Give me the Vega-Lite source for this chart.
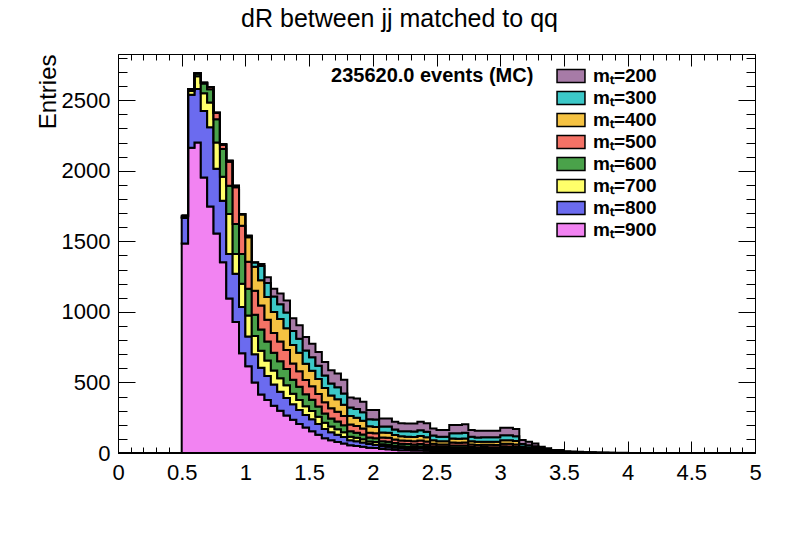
{
  "$schema": "https://vega.github.io/schema/vega-lite/v6.json",
  "width": 637,
  "height": 399,
  "autosize": {"type": "none"},
  "padding": {"left": 118, "top": 54, "right": 33, "bottom": 81},
  "background": "white",
  "config": {
    "font": "Liberation Sans",
    "view": {"stroke": "black", "strokeWidth": 1}
  },
  "title": {
    "text": "dR between jj matched to qq",
    "font": "Liberation Sans",
    "fontSize": 25,
    "fontWeight": "normal",
    "color": "black",
    "anchor": "middle",
    "frame": "group",
    "dx": -37,
    "baseline": "alphabetic",
    "offset": 2
  },
  "datasets": {
    "hists": [
      {"d": 0.50, "m900": 1484, "m800": 181, "m700": 10, "m600": 7, "m500": 0, "m400": 0, "m300": 0, "m200": 0},
      {"d": 0.55, "m900": 2163, "m800": 377, "m700": 25, "m600": 10, "m500": 3, "m400": 0, "m300": 0, "m200": 0},
      {"d": 0.60, "m900": 2200, "m800": 380, "m700": 91, "m600": 19, "m500": 2, "m400": 0, "m300": 0, "m200": 0},
      {"d": 0.65, "m900": 1953, "m800": 471, "m700": 125, "m600": 70, "m500": 5, "m400": 0, "m300": 0, "m200": 0},
      {"d": 0.70, "m900": 1748, "m800": 560, "m700": 177, "m600": 94, "m500": 15, "m400": 0, "m300": 0, "m200": 0},
      {"d": 0.75, "m900": 1555, "m800": 460, "m700": 185, "m600": 166, "m500": 46, "m400": 0, "m300": 0, "m200": 0},
      {"d": 0.80, "m900": 1352, "m800": 436, "m700": 170, "m600": 196, "m500": 30, "m400": 5, "m300": 0, "m200": 0},
      {"d": 0.85, "m900": 1095, "m800": 316, "m700": 283, "m600": 200, "m500": 170, "m400": 7, "m300": 0, "m200": 0},
      {"d": 0.90, "m900": 928, "m800": 342, "m700": 141, "m600": 212, "m500": 260, "m400": 11, "m300": 0, "m200": 0},
      {"d": 0.95, "m900": 707, "m800": 327, "m700": 165, "m600": 212, "m500": 200, "m400": 80, "m300": 3, "m200": 0},
      {"d": 1.00, "m900": 615, "m800": 210, "m700": 150, "m600": 190, "m500": 190, "m400": 175, "m300": 8, "m200": 3},
      {"d": 1.05, "m900": 500, "m800": 200, "m700": 130, "m600": 150, "m500": 170, "m400": 170, "m300": 30, "m200": 2},
      {"d": 1.10, "m900": 415, "m800": 190, "m700": 120, "m600": 150, "m500": 170, "m400": 180, "m300": 100, "m200": 15},
      {"d": 1.15, "m900": 375, "m800": 170, "m700": 110, "m600": 135, "m500": 155, "m400": 160, "m300": 100, "m200": 41},
      {"d": 1.20, "m900": 335, "m800": 150, "m700": 100, "m600": 125, "m500": 140, "m400": 150, "m300": 110, "m200": 54},
      {"d": 1.25, "m900": 300, "m800": 135, "m700": 95, "m600": 120, "m500": 140, "m400": 160, "m300": 105, "m200": 75},
      {"d": 1.30, "m900": 265, "m800": 125, "m700": 90, "m600": 115, "m500": 135, "m400": 155, "m300": 110, "m200": 85},
      {"d": 1.35, "m900": 235, "m800": 110, "m700": 75, "m600": 100, "m500": 115, "m400": 130, "m300": 100, "m200": 90},
      {"d": 1.40, "m900": 205, "m800": 100, "m700": 70, "m600": 95, "m500": 110, "m400": 130, "m300": 100, "m200": 95},
      {"d": 1.45, "m900": 180, "m800": 90, "m700": 62, "m600": 85, "m500": 100, "m400": 115, "m300": 95, "m200": 95},
      {"d": 1.50, "m900": 155, "m800": 85, "m700": 58, "m600": 80, "m500": 95, "m400": 110, "m300": 95, "m200": 97},
      {"d": 1.55, "m900": 130, "m800": 75, "m700": 52, "m600": 72, "m500": 90, "m400": 105, "m300": 95, "m200": 97},
      {"d": 1.60, "m900": 105, "m800": 65, "m700": 45, "m600": 65, "m500": 80, "m400": 100, "m300": 90, "m200": 95},
      {"d": 1.65, "m900": 90, "m800": 57, "m700": 40, "m600": 58, "m500": 72, "m400": 90, "m300": 85, "m200": 95},
      {"d": 1.70, "m900": 78, "m800": 52, "m700": 38, "m600": 55, "m500": 70, "m400": 88, "m300": 85, "m200": 97},
      {"d": 1.75, "m900": 68, "m800": 45, "m700": 34, "m600": 50, "m500": 65, "m400": 80, "m300": 80, "m200": 98},
      {"d": 1.80, "m900": 55, "m800": 35, "m700": 26, "m600": 38, "m500": 48, "m400": 60, "m300": 60, "m200": 72},
      {"d": 1.85, "m900": 50, "m800": 33, "m700": 25, "m600": 36, "m500": 47, "m400": 58, "m300": 62, "m200": 75},
      {"d": 1.90, "m900": 45, "m800": 30, "m700": 23, "m600": 33, "m500": 43, "m400": 55, "m300": 60, "m200": 74},
      {"d": 1.95, "m900": 38, "m800": 25, "m700": 19, "m600": 27, "m500": 35, "m400": 45, "m300": 50, "m200": 65},
      {"d": 2.00, "m900": 35, "m800": 24, "m700": 19, "m600": 27, "m500": 35, "m400": 45, "m300": 52, "m200": 67},
      {"d": 2.05, "m900": 28, "m800": 19, "m700": 15, "m600": 21, "m500": 27, "m400": 35, "m300": 42, "m200": 58},
      {"d": 2.10, "m900": 26, "m800": 18, "m700": 15, "m600": 21, "m500": 28, "m400": 36, "m300": 43, "m200": 58},
      {"d": 2.15, "m900": 23, "m800": 16, "m700": 13, "m600": 19, "m500": 25, "m400": 32, "m300": 38, "m200": 55},
      {"d": 2.20, "m900": 20, "m800": 15, "m700": 12, "m600": 18, "m500": 23, "m400": 30, "m300": 37, "m200": 55},
      {"d": 2.25, "m900": 19, "m800": 14, "m700": 12, "m600": 18, "m500": 23, "m400": 30, "m300": 38, "m200": 55},
      {"d": 2.30, "m900": 18, "m800": 14, "m700": 12, "m600": 17, "m500": 22, "m400": 30, "m300": 40, "m200": 56},
      {"d": 2.35, "m900": 18, "m800": 15, "m700": 13, "m600": 18, "m500": 24, "m400": 32, "m300": 42, "m200": 59},
      {"d": 2.40, "m900": 16, "m800": 14, "m700": 12, "m600": 17, "m500": 22, "m400": 30, "m300": 40, "m200": 59},
      {"d": 2.45, "m900": 13, "m800": 11, "m700": 10, "m600": 14, "m500": 18, "m400": 25, "m300": 33, "m200": 50},
      {"d": 2.50, "m900": 12, "m800": 10, "m700": 9, "m600": 13, "m500": 17, "m400": 23, "m300": 31, "m200": 48},
      {"d": 2.55, "m900": 12, "m800": 10, "m700": 9, "m600": 13, "m500": 17, "m400": 23, "m300": 32, "m200": 47},
      {"d": 2.60, "m900": 14, "m800": 12, "m700": 11, "m600": 16, "m500": 21, "m400": 28, "m300": 38, "m200": 58},
      {"d": 2.65, "m900": 14, "m800": 12, "m700": 11, "m600": 16, "m500": 20, "m400": 28, "m300": 39, "m200": 58},
      {"d": 2.70, "m900": 14, "m800": 12, "m700": 11, "m600": 16, "m500": 21, "m400": 29, "m300": 40, "m200": 60},
      {"d": 2.75, "m900": 11, "m800": 10, "m700": 9, "m600": 13, "m500": 17, "m400": 23, "m300": 32, "m200": 48},
      {"d": 2.80, "m900": 11, "m800": 9, "m700": 9, "m600": 12, "m500": 16, "m400": 22, "m300": 31, "m200": 48},
      {"d": 2.85, "m900": 11, "m800": 10, "m700": 9, "m600": 12, "m500": 16, "m400": 22, "m300": 31, "m200": 47},
      {"d": 2.90, "m900": 10, "m800": 9, "m700": 9, "m600": 13, "m500": 17, "m400": 22, "m300": 31, "m200": 47},
      {"d": 2.95, "m900": 10, "m800": 10, "m700": 8, "m600": 12, "m500": 17, "m400": 23, "m300": 31, "m200": 47},
      {"d": 3.00, "m900": 12, "m800": 11, "m700": 10, "m600": 14, "m500": 19, "m400": 25, "m300": 35, "m200": 53},
      {"d": 3.05, "m900": 11, "m800": 11, "m700": 10, "m600": 14, "m500": 19, "m400": 26, "m300": 35, "m200": 53},
      {"d": 3.10, "m900": 11, "m800": 10, "m700": 9, "m600": 13, "m500": 18, "m400": 24, "m300": 34, "m200": 51},
      {"d": 3.15, "m900": 6, "m800": 5, "m700": 5, "m600": 7, "m500": 10, "m400": 13, "m300": 18, "m200": 28},
      {"d": 3.20, "m900": 5, "m800": 5, "m700": 4, "m600": 6, "m500": 8, "m400": 11, "m300": 16, "m200": 25},
      {"d": 3.25, "m900": 4, "m800": 4, "m700": 4, "m600": 5, "m500": 7, "m400": 10, "m300": 13, "m200": 21},
      {"d": 3.30, "m900": 3, "m800": 3, "m700": 2, "m600": 3, "m500": 5, "m400": 6, "m300": 9, "m200": 14},
      {"d": 3.35, "m900": 2, "m800": 2, "m700": 2, "m600": 3, "m500": 3, "m400": 5, "m300": 6, "m200": 10},
      {"d": 3.40, "m900": 1, "m800": 1, "m700": 1, "m600": 2, "m500": 2, "m400": 3, "m300": 4, "m200": 7},
      {"d": 3.45, "m900": 1, "m800": 1, "m700": 2, "m600": 2, "m500": 2, "m400": 3, "m300": 4, "m200": 6},
      {"d": 3.50, "m900": 1, "m800": 1, "m700": 1, "m600": 1, "m500": 1, "m400": 2, "m300": 2, "m200": 3},
      {"d": 3.55, "m900": 0, "m800": 1, "m700": 1, "m600": 1, "m500": 1, "m400": 1, "m300": 2, "m200": 3},
      {"d": 3.60, "m900": 0, "m800": 0, "m700": 1, "m600": 1, "m500": 1, "m400": 1, "m300": 2, "m200": 2},
      {"d": 3.65, "m900": 0, "m800": 0, "m700": 0, "m600": 1, "m500": 1, "m400": 1, "m300": 1, "m200": 2},
      {"d": 3.70, "m900": 0, "m800": 0, "m700": 0, "m600": 0, "m500": 1, "m400": 1, "m300": 1, "m200": 2},
      {"d": 3.75, "m900": 0, "m800": 0, "m700": 0, "m600": 0, "m500": 0, "m400": 1, "m300": 1, "m200": 2},
      {"d": 3.80, "m900": 0, "m800": 0, "m700": 0, "m600": 0, "m500": 0, "m400": 0, "m300": 1, "m200": 2},
      {"d": 3.85, "m900": 0, "m800": 0, "m700": 0, "m600": 0, "m500": 0, "m400": 0, "m300": 1, "m200": 1},
      {"d": 3.90, "m900": 0, "m800": 0, "m700": 0, "m600": 0, "m500": 0, "m400": 0, "m300": 0, "m200": 2},
      {"d": 3.95, "m900": 0, "m800": 0, "m700": 0, "m600": 0, "m500": 0, "m400": 0, "m300": 0, "m200": 1},
      {"d": 4.00, "m900": 0, "m800": 0, "m700": 0, "m600": 0, "m500": 0, "m400": 0, "m300": 0, "m200": 0}
    ]
  },
  "layer": [
    {
      "data": {"name": "hists"},
      "transform": [
        {"fold": ["m900", "m800", "m700", "m600", "m500", "m400", "m300", "m200"], "as": ["s", "n"]}
      ],
      "mark": {"type": "area", "interpolate": "step-after", "stroke": "black", "strokeWidth": 2, "fillOpacity": 1},
      "encoding": {
        "x": {
          "field": "d", "type": "quantitative",
          "scale": {"domain": [0, 5], "nice": false},
          "axis": {
            "orient": "bottom", "values": [0, 0.5, 1, 1.5, 2, 2.5, 3, 3.5, 4, 4.5, 5],
            "format": "~g", "ticks": false, "domain": false, "grid": false,
            "labelFont": "Liberation Sans", "labelFontSize": 22, "labelColor": "black",
            "labelPadding": 9, "labelFlush": false, "labelOverlap": false, "title": null
          }
        },
        "y": {
          "field": "n", "type": "quantitative", "stack": "zero",
          "scale": {"domain": [0, 2828], "nice": false},
          "axis": {
            "orient": "left", "values": [0, 500, 1000, 1500, 2000, 2500], "format": "d",
            "ticks": false, "domain": false, "grid": false,
            "labelFont": "Liberation Sans", "labelFontSize": 22, "labelColor": "black",
            "labelPadding": 8, "labelFlush": false, "labelOverlap": false,
            "title": "Entries", "titleFont": "Liberation Sans", "titleFontSize": 24,
            "titleFontWeight": "normal", "titleColor": "black", "titleAngle": -90,
            "titleAlign": "right", "titleBaseline": "middle", "titleX": -70, "titleY": 0
          }
        },
        "color": {
          "field": "s", "type": "nominal",
          "scale": {
            "domain": ["m200", "m300", "m400", "m500", "m600", "m700", "m800", "m900"],
            "range": ["#a77ba7", "#3cc8c8", "#f5c242", "#f47266", "#4aa24a", "#ffff6a", "#6b6bef", "#f283f2"]
          },
          "legend": {
            "orient": "none", "legendX": 441, "legendY": 10, "title": null,
            "symbolType": "M-1.27,-0.59H1.27V0.59H-1.27Z", "symbolSize": 484,
            "symbolStrokeColor": "black", "symbolStrokeWidth": 1.5, "symbolOpacity": 1,
            "labelFont": "Liberation Sans", "labelFontSize": 19, "labelFontWeight": "bold",
            "labelColor": "black", "labelOffset": 10, "rowPadding": 0,
            "labelExpr": "'mₜ=' + slice(datum.label, 1)"
          }
        },
        "order": {"field": "s", "sort": "descending"}
      }
    },
    {
      "data": {"values": [{}]},
      "mark": {"type": "rule", "stroke": "black", "strokeWidth": 2},
      "encoding": {
        "x": {
          "datum": 0, "type": "quantitative",
          "scale": {"domain": [0, 5], "nice": false},
          "axis": {
            "orient": "bottom",
            "values": [0, 0.1, 0.2, 0.3, 0.4, 0.5, 0.6, 0.7, 0.8, 0.9, 1, 1.1, 1.2, 1.3, 1.4, 1.5, 1.6, 1.7, 1.8, 1.9, 2, 2.1, 2.2, 2.3, 2.4, 2.5, 2.6, 2.7, 2.8, 2.9, 3, 3.1, 3.2, 3.3, 3.4, 3.5, 3.6, 3.7, 3.8, 3.9, 4, 4.1, 4.2, 4.3, 4.4, 4.5, 4.6, 4.7, 4.8, 4.9, 5],
            "labels": false, "domain": false, "grid": false, "title": null,
            "tickColor": "black", "tickWidth": 1,
            "tickSize": {"condition": {"test": "abs(datum.value * 2 - round(datum.value * 2)) < 0.01", "value": -12}, "value": -6}
          }
        },
        "x2": {"datum": 5},
        "y": {
          "datum": 0, "type": "quantitative",
          "scale": {"domain": [0, 2828], "nice": false},
          "axis": {
            "orient": "left",
            "values": [0, 100, 200, 300, 400, 500, 600, 700, 800, 900, 1000, 1100, 1200, 1300, 1400, 1500, 1600, 1700, 1800, 1900, 2000, 2100, 2200, 2300, 2400, 2500, 2600, 2700, 2800],
            "labels": false, "domain": false, "grid": false, "title": null,
            "tickColor": "black", "tickWidth": 1,
            "tickSize": {"condition": {"test": "datum.value % 500 == 0", "value": -17}, "value": -9}
          }
        }
      }
    },
    {
      "data": {"values": [{}]},
      "mark": {"type": "rule", "stroke": "black", "strokeWidth": 2},
      "encoding": {
        "x": {
          "datum": 0, "type": "quantitative",
          "scale": {"domain": [0, 5], "nice": false},
          "axis": {
            "orient": "top",
            "values": [0, 0.1, 0.2, 0.3, 0.4, 0.5, 0.6, 0.7, 0.8, 0.9, 1, 1.1, 1.2, 1.3, 1.4, 1.5, 1.6, 1.7, 1.8, 1.9, 2, 2.1, 2.2, 2.3, 2.4, 2.5, 2.6, 2.7, 2.8, 2.9, 3, 3.1, 3.2, 3.3, 3.4, 3.5, 3.6, 3.7, 3.8, 3.9, 4, 4.1, 4.2, 4.3, 4.4, 4.5, 4.6, 4.7, 4.8, 4.9, 5],
            "labels": false, "domain": false, "grid": false, "title": null,
            "tickColor": "black", "tickWidth": 1,
            "tickSize": {"condition": {"test": "abs(datum.value * 2 - round(datum.value * 2)) < 0.01", "value": -12}, "value": -6}
          }
        },
        "x2": {"datum": 5},
        "y": {
          "datum": 0, "type": "quantitative",
          "scale": {"domain": [0, 2828], "nice": false},
          "axis": {
            "orient": "right",
            "values": [0, 100, 200, 300, 400, 500, 600, 700, 800, 900, 1000, 1100, 1200, 1300, 1400, 1500, 1600, 1700, 1800, 1900, 2000, 2100, 2200, 2300, 2400, 2500, 2600, 2700, 2800],
            "labels": false, "domain": false, "grid": false, "title": null,
            "tickColor": "black", "tickWidth": 1,
            "tickSize": {"condition": {"test": "datum.value % 500 == 0", "value": -17}, "value": -9}
          }
        }
      }
    },
    {
      "data": {"values": [{"label": "235620.0 events (MC)"}]},
      "mark": {"type": "text", "align": "left", "baseline": "alphabetic", "font": "Liberation Sans", "fontSize": 20, "fontWeight": "bold", "color": "black"},
      "encoding": {
        "x": {"datum": 1.672, "type": "quantitative", "scale": {"domain": [0, 5], "nice": false}, "axis": null},
        "y": {"datum": 2632, "type": "quantitative", "scale": {"domain": [0, 2828], "nice": false}, "axis": null},
        "text": {"field": "label"}
      }
    }
  ],
  "resolve": {"axis": {"x": "independent", "y": "independent"}}
}
